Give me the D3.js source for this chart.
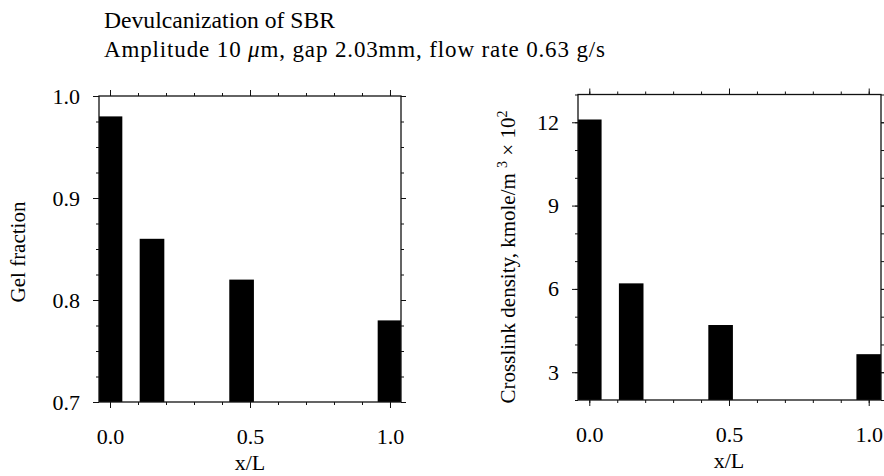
<!DOCTYPE html>
<html>
<head>
<meta charset="utf-8">
<script src="https://cdn.jsdelivr.net/npm/d3@7"></script>
</head>
<body style="margin:0;padding:0;background:#fff">
<svg id="chart" width="884" height="476"></svg>
<script>
// ---- data ----
const positions = [0, 0.15, 0.47, 1.0];           // x/L
const gelFraction = [0.98, 0.86, 0.82, 0.78];
const crosslinkDensity = [12.1, 6.2, 4.7, 3.65];  // kmole/m3 x 10^2
const xTickValues = [0, 0.5, 1.0];
const xTickLabels = ["0.0", "0.5", "1.0"];
const gelTickValues = [0.7, 0.8, 0.9, 1.0];
const gelTickLabels = ["0.7", "0.8", "0.9", "1.0"];
const crossTickValues = [3, 6, 9, 12];
const crossTickLabels = ["3", "6", "9", "12"];
const barWidthX = 0.088;

const FONT = '"Liberation Serif"';
const INK = "#000";
const svg = d3.select("#chart");

// titles
svg.append("text").attr("x", 104).attr("y", 28)
  .style("font-family", FONT).style("font-size", "23px").attr("fill", INK)
  .attr("textLength", 231).attr("lengthAdjust", "spacingAndGlyphs")
  .text("Devulcanization of SBR");
const t2 = svg.append("text").attr("x", 104).attr("y", 57)
  .style("font-family", FONT).style("font-size", "23px").attr("fill", INK)
  .attr("textLength", 501).attr("lengthAdjust", "spacing");
t2.append("tspan").style("font-family", FONT).text("Amplitude  10 ");
t2.append("tspan").style("font-family", FONT).style("font-style", "italic").text("μ");
t2.append("tspan").style("font-family", FONT).text("m,  gap  2.03mm,  flow  rate  0.63  g/s");

function panel(cfg) {
  const g = svg.append("g").style("font-family", FONT);
  const x = d3.scaleLinear().domain(cfg.xDomain).range([cfg.left, cfg.right]);
  const y = d3.scaleLinear().domain(cfg.yDomain).range([cfg.bottom, cfg.top]);
  const clipId = "clip" + cfg.id;
  svg.append("clipPath").attr("id", clipId).append("rect")
    .attr("x", cfg.left).attr("y", cfg.top)
    .attr("width", cfg.right - cfg.left).attr("height", cfg.bottom - cfg.top);

  // bars
  g.append("g").attr("clip-path", `url(#${clipId})`)
    .selectAll("rect").data(positions.map((p, i) => ({p, v: cfg.values[i]})))
    .join("rect")
    .attr("x", d => x(d.p - barWidthX / 2))
    .attr("width", d => x(d.p + barWidthX / 2) - x(d.p - barWidthX / 2))
    .attr("y", d => y(d.v))
    .attr("height", d => y(cfg.yDomain[0]) - y(d.v))
    .attr("fill", INK);

  const minorX = d3.range(0, 11).map(i => i / 10);
  const styleAxis = sel => {
    sel.attr("font-family", null);
    sel.select(".domain").remove();
    sel.selectAll("line").attr("stroke", "#111").attr("stroke-width", 1);
    sel.selectAll("text").attr("fill", INK)
      .style("font-family", FONT).style("font-size", "22px");
  };

  // bottom
  g.append("g").attr("transform", `translate(0,${cfg.bottom})`)
    .call(d3.axisBottom(x).tickValues(minorX).tickSize(3).tickFormat("")).call(styleAxis);
  g.append("g").attr("transform", `translate(0,${cfg.bottom})`)
    .call(d3.axisBottom(x).tickValues(xTickValues).tickSize(6).tickPadding(20)
      .tickFormat((d, i) => xTickLabels[i])).call(styleAxis);
  // top
  g.append("g").attr("transform", `translate(0,${cfg.top})`)
    .call(d3.axisTop(x).tickValues(minorX).tickSize(3).tickFormat("")).call(styleAxis);
  g.append("g").attr("transform", `translate(0,${cfg.top})`)
    .call(d3.axisTop(x).tickValues(xTickValues).tickSize(6).tickFormat("")).call(styleAxis);
  // left
  g.append("g").attr("transform", `translate(${cfg.left},0)`)
    .call(d3.axisLeft(y).tickValues(cfg.minorY).tickSize(3).tickFormat("")).call(styleAxis);
  g.append("g").attr("transform", `translate(${cfg.left},0)`)
    .call(d3.axisLeft(y).tickValues(cfg.yTicks).tickSize(6).tickPadding(13)
      .tickFormat((d, i) => cfg.yLabels[i])).call(styleAxis);
  // right
  g.append("g").attr("transform", `translate(${cfg.right},0)`)
    .call(d3.axisRight(y).tickValues(cfg.minorY).tickSize(3).tickFormat("")).call(styleAxis);
  g.append("g").attr("transform", `translate(${cfg.right},0)`)
    .call(d3.axisRight(y).tickValues(cfg.yTicks).tickSize(5).tickFormat("")).call(styleAxis);

  // frame
  g.append("rect").attr("x", cfg.left).attr("y", cfg.top)
    .attr("width", cfg.right - cfg.left).attr("height", cfg.bottom - cfg.top)
    .attr("fill", "none").attr("stroke", "#111").attr("stroke-width", 1.3);

  // x title
  g.append("text").attr("x", x(0.5)).attr("y", cfg.bottom + 68)
    .attr("text-anchor", "middle").attr("fill", INK)
    .style("font-family", FONT).style("font-size", "22px").text("x/L");
  // y title
  const yt = g.append("text")
    .attr("transform", `translate(${cfg.yTitleX},${cfg.yTitleY}) rotate(-90)`)
    .attr("text-anchor", "middle").attr("fill", INK)
    .style("font-family", FONT).style("font-size", "21px");
  cfg.yTitle(yt);
}

panel({
  id: "a", left: 99, right: 401, top: 96, bottom: 402,
  xDomain: [-0.0393, 1.0393], yDomain: [0.7, 1.0],
  values: gelFraction, yTicks: gelTickValues, yLabels: gelTickLabels,
  minorY: d3.range(0, 13).map(i => 0.7 + i * 0.025),
  yTitleX: 25, yTitleY: 252,
  yTitle: t => t.text("Gel fraction")
});

panel({
  id: "b", left: 578, right: 881, top: 94.5, bottom: 400,
  xDomain: [-0.0404, 1.044], yDomain: [2, 13],
  values: crosslinkDensity, yTicks: crossTickValues, yLabels: crossTickLabels,
  minorY: d3.range(2, 14),
  yTitleX: 515, yTitleY: 257,
  yTitle: t => {
    t.append("tspan").text("Crosslink density, kmole/m ");
    t.append("tspan").style("font-size", "14px").attr("dy", -8).text("3");
    t.append("tspan").attr("dy", 8).text(" \u00D7 10");
    t.append("tspan").style("font-size", "14px").attr("dy", -8).text("2");
  }
});
</script>
</body>
</html>
